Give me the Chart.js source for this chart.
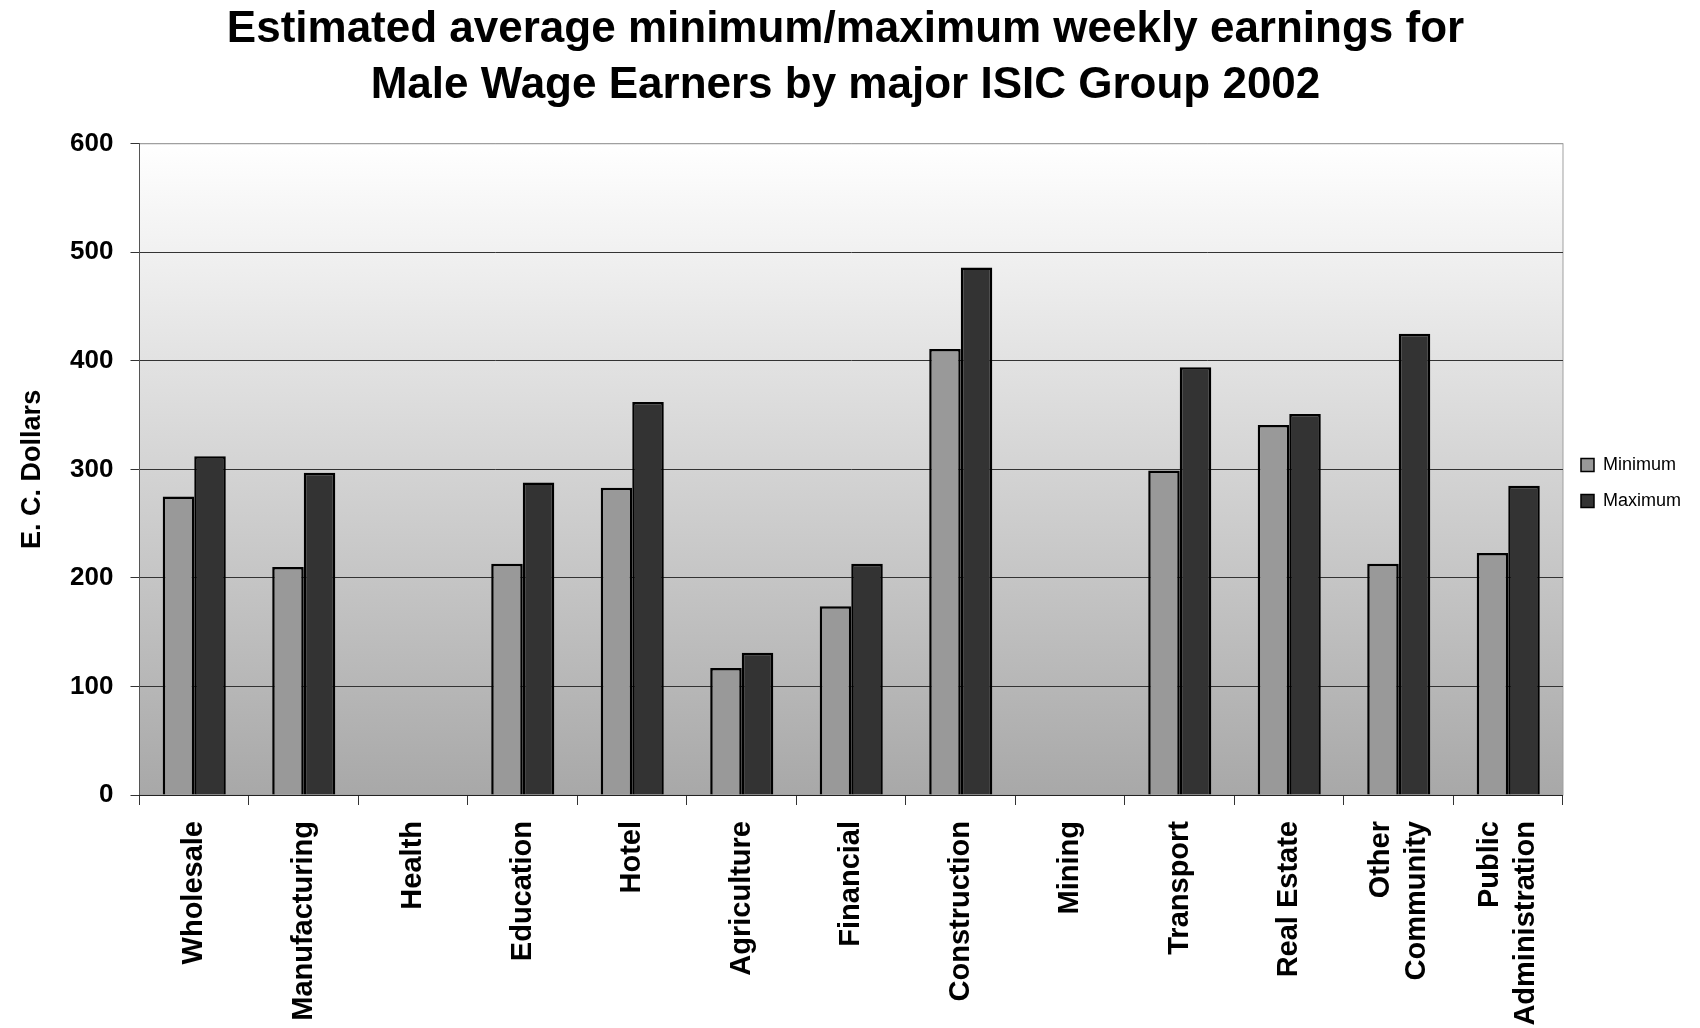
<!DOCTYPE html>
<html>
<head>
<meta charset="utf-8">
<script src="https://cdn.jsdelivr.net/npm/chart.js@4"></script>
<style>
  body { margin: 0; background: #fff; }
  #wrap { width: 1700px; height: 1028px; }
</style>
</head>
<body>
<div id="wrap"><canvas id="graph" width="1700" height="1028"></canvas></div>
<script>
var ctx = document.getElementById('graph').getContext('2d');

const categories = [
    'Wholesale', 'Manufacturing', 'Health', 'Education', 'Hotel', 'Agriculture', 'Financial',
    'Construction', 'Mining', 'Transport', 'Real Estate', ['Other', 'Community'], ['Public', 'Administration']
];
const minimum = [275, 210, null, 213, 283, 117, 174, 411, null, 299, 341, 213, 223];
const maximum = [312, 297, null, 288, 362, 131, 213, 486, null, 394, 351, 425, 285];
const yTicks = [0, 100, 200, 300, 400, 500, 600];

const fontFamily = '"Liberation Sans", Arial, sans-serif';
const xFontSize = 29;
const xLineHeight = 1.24;

// grey gradient behind the plot, lighter at the top
const plotBackground = {
    id: 'plotBackground',
    afterLayout(chart) {
        // legend sits a bit above the middle in the original
        chart.legend.top -= 31;
        chart.legend.bottom -= 31;
    },
    beforeDraw(chart) {
        const a = chart.chartArea;
        const c = chart.ctx;
        const g = c.createLinearGradient(0, a.top, 0, a.bottom);
        g.addColorStop(0, '#ffffff');
        g.addColorStop(1, '#a8a8a8');
        c.save();
        c.fillStyle = g;
        c.fillRect(a.left, a.top, a.right - a.left, a.bottom - a.top);
        c.strokeStyle = '#a0a0a0';
        c.lineWidth = 1;
        c.strokeRect(a.left, a.top, a.right - a.left, a.bottom - a.top);
        c.restore();

        // centre the two-line category labels on their tick
        const items = chart.scales.x.getLabelItems();
        items.forEach(item => {
            if (Array.isArray(item.label) && !item._centred) {
                item.options.translation[0] -= (item.label.length - 1) * xFontSize * xLineHeight / 2;
                item._centred = true;
            }
        });
    }
};

var myGraph = new Chart(ctx, {
    type: 'bar',
    data: {
        labels: categories,
        datasets: [{
            label: 'Minimum',
            data: minimum,
            backgroundColor: '#999999',
            borderColor: '#000000',
            borderWidth: 2.5
        }, {
            label: 'Maximum',
            data: maximum,
            backgroundColor: '#333333',
            borderColor: '#000000',
            borderWidth: 2.5
        }]
    },
    plugins: [plotBackground],
    options: {
        responsive: false,
        animation: false,
        datasets: {
            bar: {
                categoryPercentage: 0.576,
                barPercentage: 1.0
            }
        },
        layout: {
            padding: { left: 0, right: 9, top: 0, bottom: 0 }
        },
        plugins: {
            title: {
                display: true,
                text: ['Estimated average minimum/maximum weekly earnings for', 'Male Wage Earners by major ISIC Group 2002'],
                color: '#000',
                font: { family: fontFamily, size: 44, weight: 'bold', lineHeight: 1.27 },
                padding: { top: 2, bottom: 30 }
            },
            legend: {
                position: 'right',
                labels: {
                    color: '#000',
                    font: { family: fontFamily, size: 18, lineHeight: 1.05 },
                    boxWidth: 13,
                    boxHeight: 13,
                    padding: 18,
                    generateLabels(chart) {
                        return chart.data.datasets.map((ds, i) => ({
                            text: ds.label,
                            fillStyle: ds.backgroundColor,
                            strokeStyle: '#000',
                            lineWidth: 1.5,
                            datasetIndex: i
                        }));
                    }
                }
            },
            tooltip: { enabled: false }
        },
        scales: {
            y: {
                min: 0,
                max: 600,
                afterBuildTicks(scale) {
                    scale.ticks = yTicks.map(v => ({ value: v }));
                },
                afterFit(scale) {
                    scale.width = 139.5;
                },
                ticks: {
                    color: '#000',
                    padding: 17,
                    font: { family: fontFamily, size: 26, weight: 'bold' }
                },
                grid: {
                    color: ctx => ctx.tick && ctx.tick.value === 600 ? '#a0a0a0' : '#333333',
                    tickColor: '#333333',
                    tickLength: 9,
                    lineWidth: 1
                },
                border: { color: '#555555', width: 1 },
                title: {
                    display: true,
                    text: 'E. C. Dollars',
                    color: '#000',
                    font: { family: fontFamily, size: 27, weight: 'bold' },
                    padding: { top: 16, bottom: 0 }
                }
            },
            x: {
                afterFit(scale) {
                    scale.height = 233;
                },
                ticks: {
                    color: '#000',
                    maxRotation: 90,
                    minRotation: 90,
                    padding: 16,
                    autoSkip: false,
                    font: { family: fontFamily, size: xFontSize, weight: 'bold', lineHeight: xLineHeight }
                },
                grid: {
                    offset: true,
                    drawOnChartArea: false,
                    drawTicks: true,
                    tickLength: 10,
                    tickColor: '#333333'
                },
                border: { color: '#222222', width: 1 }
            }
        }
    }
});
</script>
</body>
</html>
